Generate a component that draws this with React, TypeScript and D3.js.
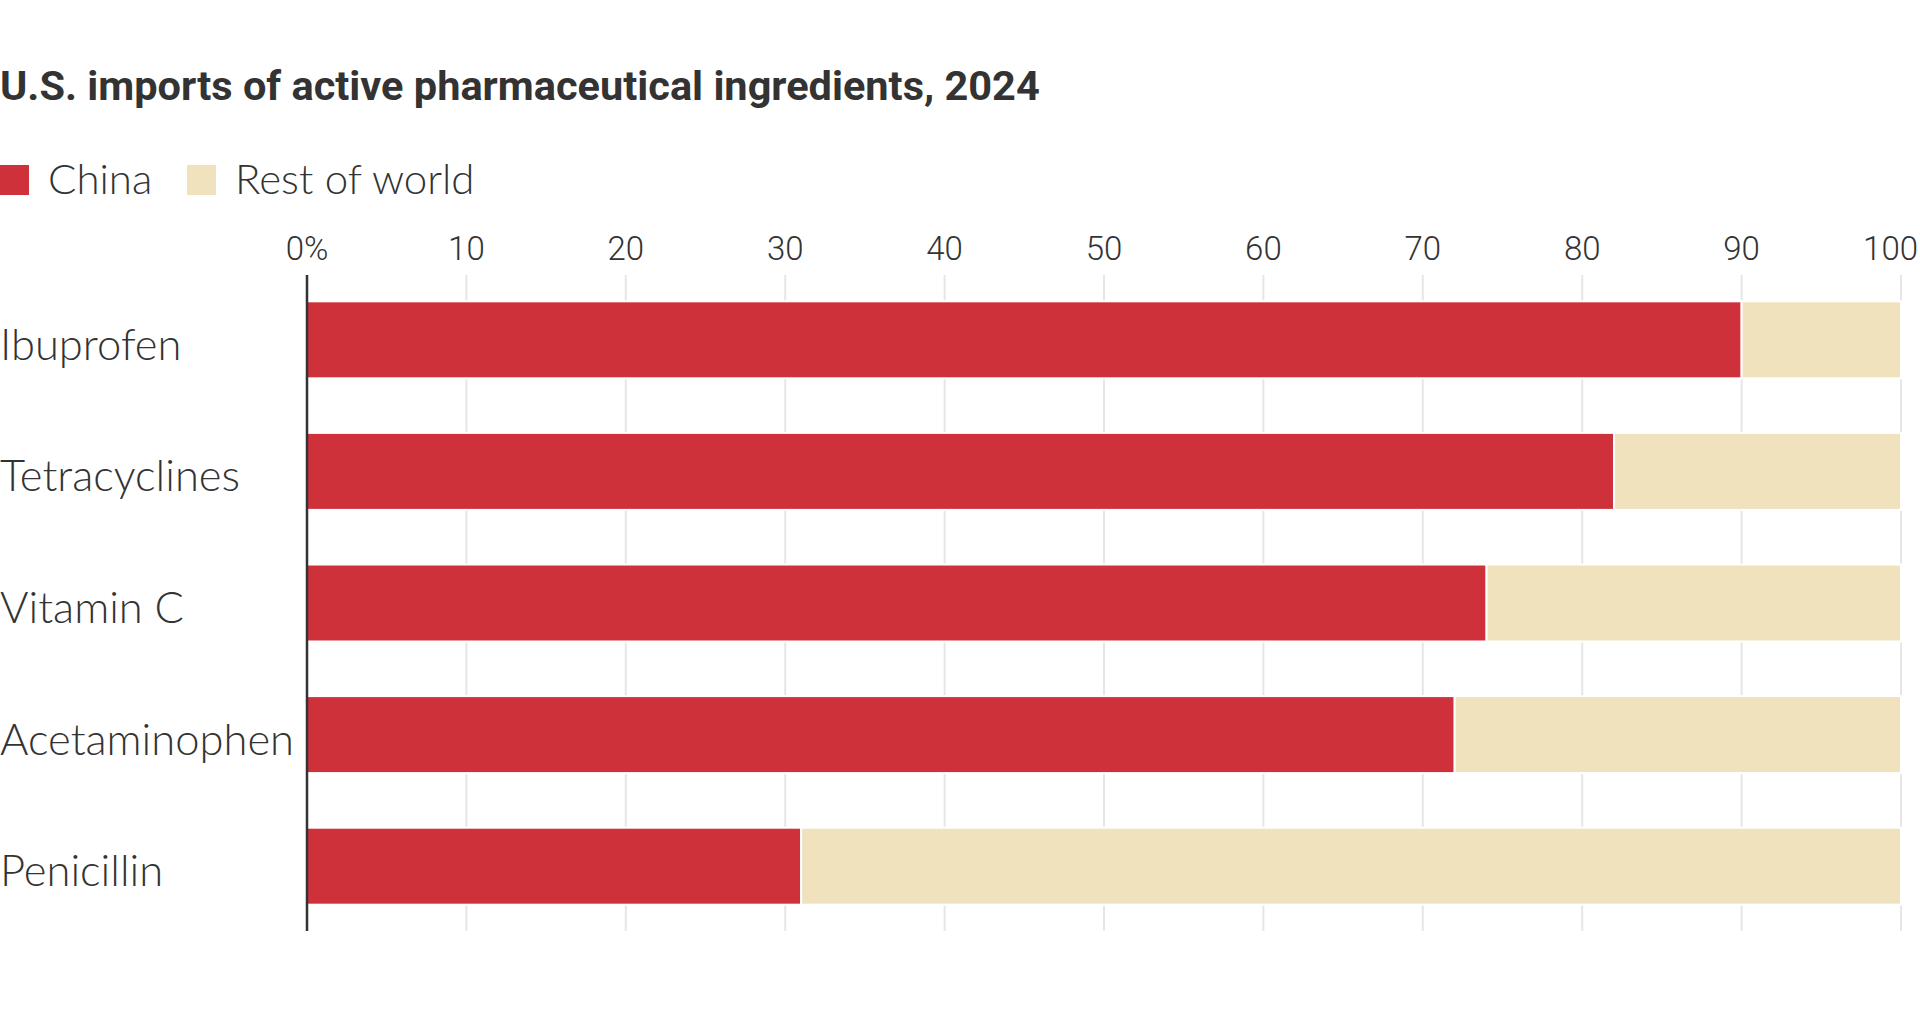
import React, { useEffect, useRef } from 'react';
import * as d3 from 'd3';

// Share of U.S. imports by source, percent
const categories = ['Ibuprofen', 'Tetracyclines', 'Vitamin C', 'Acetaminophen', 'Penicillin'];
const chinaShare = [90, 82, 74, 72, 31];
const restShare = [10, 18, 26, 28, 69];
const seriesNames = ['China', 'Rest of world'];
const xTicks = [0, 10, 20, 30, 40, 50, 60, 70, 80, 90, 100];

const COLORS = ['#cf313b', '#efe2bd'];
const TEXT = '#333333';

const App: React.FC = () => {
  const svgRef = useRef<SVGSVGElement>(null);

  useEffect(() => {
    if (!svgRef.current) return;
    const svg = d3.select(svgRef.current);
    svg.selectAll('*').remove();

    const width = 1920;
    const height = 1024;
    const margin = { top: 275, right: 19, bottom: 93, left: 307 };

    const rows = categories.map((c, i) => ({ name: c, china: chinaShare[i], rest: restShare[i] }));

    const x = d3.scaleLinear()
      .domain([0, 100])
      .range([margin.left, width - margin.right]);

    const y = d3.scaleBand<string>()
      .domain(categories)
      .range([margin.top, height - margin.bottom])
      .paddingInner(0.415)
      .paddingOuter(0.2);

    const stack = d3.stack<any>().keys(['china', 'rest']);
    const layers = stack(rows);

    // Title
    svg.append('text')
      .attr('x', 0)
      .attr('y', 100)
      .attr('fill', TEXT)
      .style('font-family', '"Roboto", sans-serif')
      .style('font-weight', 700)
      .style('font-size', '41.5px')
      .text('U.S. imports of active pharmaceutical ingredients, 2024');

    // Legend
    const legend = svg.append('g').attr('transform', 'translate(0,165)');
    const legendX = [0, 187];
    seriesNames.forEach((name, i) => {
      legend.append('rect')
        .attr('x', legendX[i])
        .attr('y', 0)
        .attr('width', 29)
        .attr('height', 30)
        .attr('fill', COLORS[i]);
      legend.append('text')
        .attr('x', legendX[i] + 48)
        .attr('y', 29)
        .attr('fill', TEXT)
        .style('font-family', '"Lato", "Open Sans", sans-serif')
        .style('font-weight', 300)
        .style('font-size', '42px')
        .text(name);
    });

    // Gridlines
    svg.append('g')
      .selectAll('line')
      .data(xTicks.slice(1))
      .enter()
      .append('line')
      .attr('x1', d => x(d))
      .attr('x2', d => x(d))
      .attr('y1', margin.top)
      .attr('y2', height - margin.bottom)
      .attr('stroke', '#e6e6e6')
      .attr('stroke-width', 2);

    // Tick labels (last one kept inside the frame)
    svg.append('g')
      .selectAll('text')
      .data(xTicks)
      .enter()
      .append('text')
      .attr('x', d => (d === 100 ? width - 2 : x(d)))
      .attr('y', 260)
      .attr('text-anchor', d => (d === 100 ? 'end' : 'middle'))
      .attr('fill', TEXT)
      .style('font-family', '"Roboto", sans-serif')
      .style('font-weight', 300)
      .style('font-size', '33px')
      .text(d => (d === 0 ? '0%' : String(d)));

    // Bars
    svg.append('g')
      .selectAll('g')
      .data(layers)
      .enter()
      .append('g')
      .attr('fill', (_, i) => COLORS[i])
      .selectAll('rect')
      .data(d => d)
      .enter()
      .append('rect')
      .attr('x', d => x(d[0]))
      .attr('y', d => y(d.data.name) as number)
      .attr('width', d => x(d[1]) - x(d[0]))
      .attr('height', y.bandwidth())
      .attr('stroke', '#ffffff')
      .attr('stroke-width', 2);

    // Baseline
    svg.append('line')
      .attr('x1', x(0))
      .attr('x2', x(0))
      .attr('y1', margin.top)
      .attr('y2', height - margin.bottom)
      .attr('stroke', TEXT)
      .attr('stroke-width', 2.5);

    // Category labels
    svg.append('g')
      .selectAll('text')
      .data(categories)
      .enter()
      .append('text')
      .attr('x', 0)
      .attr('y', d => (y(d) as number) + y.bandwidth() / 2 + 20)
      .attr('fill', TEXT)
      .style('font-family', '"Lato", "Open Sans", sans-serif')
      .style('font-weight', 300)
      .style('font-size', '43.5px')
      .text(d => d);
  }, []);

  return (
    <svg
      ref={svgRef}
      width={1920}
      height={1024}
      style={{ position: 'absolute', left: 0, top: 0, background: '#ffffff' }}
    />
  );
};

export default App;
